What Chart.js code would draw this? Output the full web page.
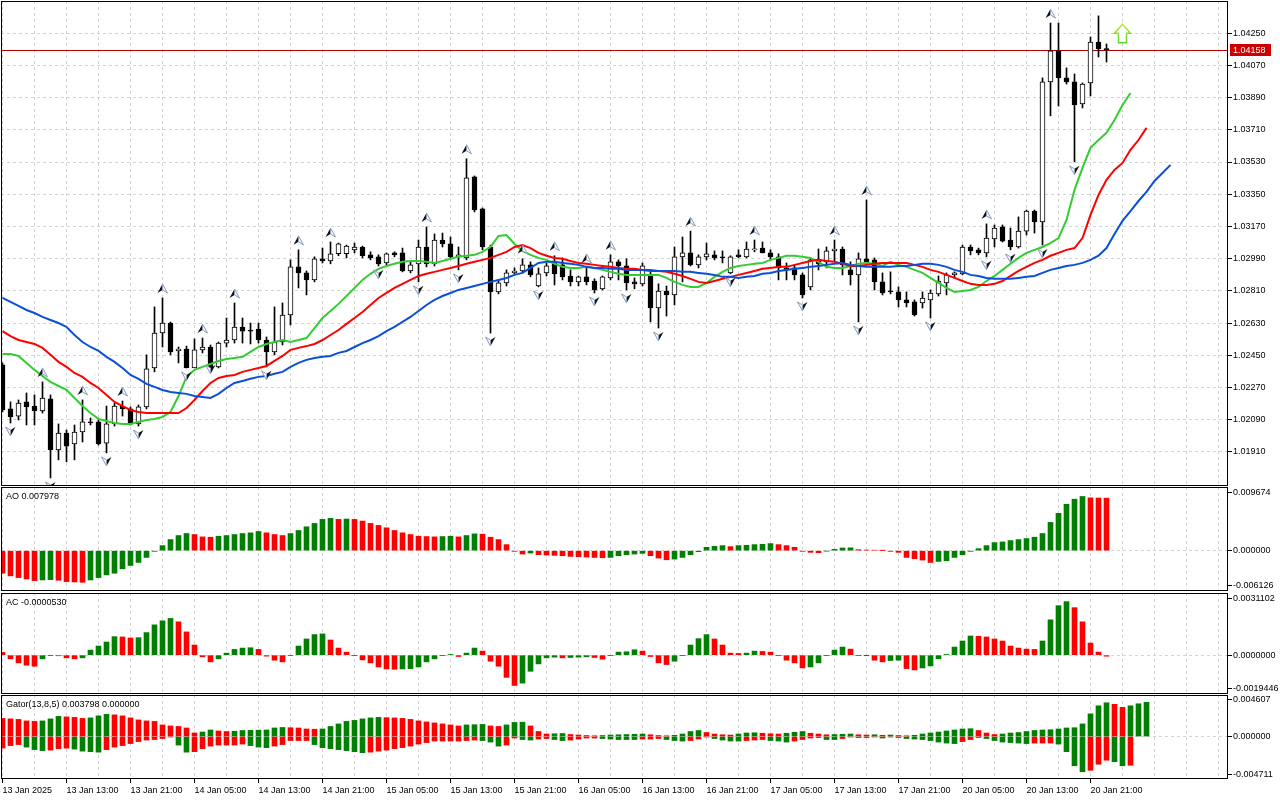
<!DOCTYPE html>
<html>
<head>
<meta charset="utf-8">
<title>EURUSD H1</title>
<script src="https://cdn.jsdelivr.net/npm/chart.js@4.4.1/dist/chart.umd.min.js"></script>
<style>
html, body { margin:0; padding:0; background:#fff; }
body { width:1280px; height:800px; position:relative; overflow:hidden; }
.pane { position:absolute; left:0; width:1280px; }
</style>
</head>
<body>
<div class="pane" style="top:0;height:486px"><canvas id="mainChart"></canvas></div>
<div class="pane" style="top:487px;height:104px"><canvas id="aoChart"></canvas></div>
<div class="pane" style="top:593px;height:101px"><canvas id="acChart"></canvas></div>
<div class="pane" style="top:695px;height:105px"><canvas id="gatorChart"></canvas></div>
<script>
// tick labels, one every 8 bars (H1)
var timeLabels = ['13 Jan 2025','13 Jan 13:00','13 Jan 21:00','14 Jan 05:00','14 Jan 13:00','14 Jan 21:00',
  '15 Jan 05:00','15 Jan 13:00','15 Jan 21:00','16 Jan 05:00','16 Jan 13:00','16 Jan 21:00',
  '17 Jan 05:00','17 Jan 13:00','17 Jan 21:00','20 Jan 05:00','20 Jan 13:00','20 Jan 21:00'];
var priceTicks = [1.01910,1.02090,1.02270,1.02450,1.02630,1.02810,1.02990,1.03170,1.03350,1.03530,1.03710,1.03890,1.04070,1.04250];
var aoTickLabels = ['-0.006126','0.000000','0.009674'];
var acTickLabels = ['-0.0019446','0.0000000','0.0031102'];
var gatorTickLabels = ['-0.004711','0.000000','0.004607'];

var open = [1.02396,1.02150,1.02110,1.02189,1.02166,1.02138,1.02206,1.01921,1.02015,1.01954,
  1.02021,1.02077,1.02077,1.01959,1.02066,1.02166,1.02150,1.02066,1.02161,1.02379,
  1.02574,1.02630,1.02474,1.02485,1.02379,1.02480,1.02496,1.02384,1.02518,1.02535,
  1.02608,1.02591,1.02596,1.02535,1.02469,1.02524,1.02675,1.02944,1.02910,1.02871,
  1.02989,1.02977,1.03017,1.03017,1.03039,1.03055,1.03011,1.03000,1.02966,1.03022,
  1.03022,1.02921,1.02961,1.03055,1.02961,1.03094,1.03072,1.03000,1.02994,1.03447,
  1.03268,1.03055,1.02804,1.02854,1.02910,1.02921,1.02955,1.02837,1.02910,1.02966,
  1.02955,1.02893,1.02860,1.02888,1.02865,1.02821,1.02882,1.02972,1.02949,1.02860,
  1.02849,1.02899,1.02714,1.02809,1.02787,1.03000,1.03022,1.02955,1.03000,1.03011,
  1.03000,1.02910,1.03011,1.03000,1.03039,1.03049,1.03022,1.03000,1.02938,1.02938,
  1.02899,1.02832,1.02983,1.02972,1.03033,1.03044,1.02927,1.02899,1.02989,1.02983,
  1.02860,1.02804,1.02804,1.02759,1.02748,1.02742,1.02759,1.02793,1.02854,1.02899,
  1.02905,1.03055,1.03039,1.03022,1.03100,1.03167,1.03094,1.03055,1.03144,1.03256,
  1.03195,1.03978,1.04151,1.04000,1.03978,1.03855,1.03972,1.04201,1.04162];
var high = [1.02407,1.02189,1.02200,1.02239,1.02228,1.02301,1.02228,1.02066,1.02032,1.02060,
  1.02200,1.02099,1.02088,1.02166,1.02183,1.02194,1.02161,1.02172,1.02452,1.02720,
  1.02770,1.02636,1.02496,1.02501,1.02541,1.02546,1.02507,1.02524,1.02658,1.02742,
  1.02658,1.02630,1.02630,1.02552,1.02720,1.02742,1.02983,1.03039,1.02921,1.03000,
  1.03049,1.03083,1.03077,1.03066,1.03077,1.03060,1.03028,1.03011,1.03022,1.03028,
  1.03049,1.02977,1.03094,1.03167,1.03128,1.03133,1.03111,1.03055,1.03548,1.03452,
  1.03273,1.03066,1.02871,1.02927,1.02938,1.02989,1.02972,1.02938,1.02966,1.03006,
  1.02994,1.02927,1.02893,1.02938,1.02877,1.02893,1.03011,1.02983,1.02989,1.02882,
  1.02966,1.02916,1.02849,1.02837,1.03055,1.03111,1.03144,1.03011,1.03077,1.03033,
  1.03033,1.03006,1.03039,1.03083,1.03094,1.03083,1.03039,1.03017,1.02966,1.02955,
  1.02910,1.02994,1.03044,1.03055,1.03094,1.03055,1.02972,1.03022,1.03318,1.02994,
  1.02910,1.02916,1.02832,1.02804,1.02759,1.02804,1.02815,1.02893,1.02910,1.02916,
  1.03066,1.03066,1.03049,1.03184,1.03178,1.03178,1.03161,1.03223,1.03262,1.03262,
  1.04000,1.04307,1.04307,1.04056,1.04022,1.03972,1.04229,1.04347,1.04190];
var low = [1.02133,1.02071,1.02088,1.02060,1.02060,1.02127,1.01764,1.01865,1.01854,1.01865,
  1.01965,1.02060,1.01948,1.01904,1.02054,1.02110,1.02060,1.02054,1.02150,1.02357,
  1.02496,1.02452,1.02407,1.02379,1.02424,1.02463,1.02418,1.02379,1.02496,1.02518,
  1.02518,1.02513,1.02518,1.02385,1.02452,1.02507,1.02619,1.02826,1.02787,1.02860,
  1.02966,1.02961,1.03006,1.02994,1.03022,1.02994,1.02983,1.02949,1.02955,1.03000,
  1.02916,1.02910,1.02860,1.02944,1.02949,1.03055,1.02994,1.02927,1.02983,1.03251,
  1.03039,1.02574,1.02793,1.02837,1.02899,1.02910,1.02888,1.02832,1.02893,1.02843,
  1.02871,1.02837,1.02837,1.02843,1.02798,1.02815,1.02871,1.02871,1.02815,1.02821,
  1.02837,1.02636,1.02602,1.02669,1.02731,1.02860,1.02949,1.02938,1.02983,1.02983,
  1.02966,1.02905,1.02994,1.02994,1.03028,1.03022,1.02983,1.02871,1.02871,1.02871,
  1.02770,1.02815,1.02927,1.02938,1.02972,1.02899,1.02843,1.02636,1.02955,1.02815,
  1.02787,1.02793,1.02720,1.02720,1.02669,1.02714,1.02658,1.02781,1.02787,1.02882,
  1.02899,1.03011,1.03011,1.03000,1.03055,1.03083,1.03039,1.03049,1.03122,1.03133,
  1.03066,1.03788,1.03843,1.03966,1.03531,1.03832,1.03899,1.04117,1.04089];
var close = [1.02144,1.02105,1.02183,1.02161,1.02138,1.02211,1.01921,1.02015,1.01942,1.02021,
  1.02077,1.02071,1.01954,1.02066,1.02166,1.02150,1.02066,1.02161,1.02374,1.02574,
  1.02630,1.02469,1.02485,1.02379,1.02480,1.02496,1.02379,1.02518,1.02535,1.02608,
  1.02585,1.02585,1.02535,1.02469,1.02524,1.02675,1.02944,1.02910,1.02871,1.02989,
  1.02977,1.03017,1.03072,1.03060,1.03055,1.03006,1.02994,1.02961,1.03017,1.03011,
  1.02921,1.02955,1.03055,1.02961,1.03094,1.03072,1.03000,1.03011,1.03441,1.03262,
  1.03055,1.02804,1.02854,1.02910,1.02921,1.02955,1.02899,1.02905,1.02949,1.02905,
  1.02888,1.02860,1.02888,1.02860,1.02815,1.02888,1.02972,1.02949,1.02854,1.02849,
  1.02949,1.02714,1.02809,1.02787,1.03000,1.03022,1.02955,1.03000,1.03017,1.02994,
  1.02994,1.03000,1.03000,1.03044,1.03044,1.03022,1.03000,1.02938,1.02927,1.02899,
  1.02787,1.02983,1.02961,1.03033,1.03044,1.02955,1.02899,1.02989,1.02972,1.02860,
  1.02798,1.02804,1.02759,1.02742,1.02675,1.02770,1.02798,1.02865,1.02899,1.02910,
  1.03055,1.03033,1.03022,1.03105,1.03161,1.03088,1.03055,1.03144,1.03256,1.03195,
  1.03978,1.04151,1.04000,1.03978,1.03849,1.03966,1.04201,1.04162,1.04158];

// alligator lines as plotted (already shifted forward 8 / 5 / 3 bars)
var jaw = [1.02770,1.02748,1.02726,1.02703,1.02686,1.02664,1.02647,1.02630,1.02608,1.02563,
  1.02524,1.02496,1.02474,1.02441,1.02413,1.02379,1.02340,1.02318,1.02290,1.02273,
  1.02256,1.02245,1.02239,1.02234,1.02222,1.02217,1.02211,1.02234,1.02267,1.02295,
  1.02306,1.02318,1.02329,1.02334,1.02346,1.02357,1.02385,1.02407,1.02424,1.02435,
  1.02441,1.02446,1.02463,1.02474,1.02496,1.02518,1.02535,1.02557,1.02585,1.02608,
  1.02636,1.02664,1.02697,1.02731,1.02759,1.02781,1.02798,1.02815,1.02826,1.02837,
  1.02849,1.02860,1.02871,1.02882,1.02899,1.02910,1.02938,1.02966,1.02972,1.02972,
  1.02966,1.02961,1.02955,1.02944,1.02938,1.02938,1.02933,1.02933,1.02927,1.02927,
  1.02927,1.02921,1.02921,1.02921,1.02921,1.02916,1.02916,1.02910,1.02905,1.02899,
  1.02888,1.02888,1.02882,1.02888,1.02893,1.02905,1.02910,1.02921,1.02927,1.02933,
  1.02938,1.02944,1.02949,1.02955,1.02961,1.02966,1.02955,1.02949,1.02944,1.02944,
  1.02944,1.02944,1.02949,1.02949,1.02955,1.02961,1.02961,1.02955,1.02944,1.02927,
  1.02916,1.02899,1.02893,1.02882,1.02877,1.02877,1.02877,1.02882,1.02888,1.02893,
  1.02910,1.02927,1.02938,1.02949,1.02955,1.02966,1.02983,1.03006,1.03049,1.03128,
  1.03201,1.03256,1.03312,1.03363,1.03424,1.03469,1.03514];
var teeth = [1.02585,1.02557,1.02535,1.02524,1.02513,1.02491,1.02452,1.02413,1.02385,1.02351,
  1.02329,1.02295,1.02267,1.02228,1.02189,1.02166,1.02144,1.02133,1.02127,1.02127,
  1.02127,1.02127,1.02127,1.02155,1.02200,1.02250,1.02295,1.02323,1.02334,1.02340,
  1.02357,1.02368,1.02379,1.02390,1.02418,1.02446,1.02480,1.02491,1.02501,1.02513,
  1.02535,1.02563,1.02591,1.02625,1.02658,1.02692,1.02731,1.02770,1.02798,1.02826,
  1.02849,1.02871,1.02893,1.02905,1.02916,1.02927,1.02938,1.02949,1.02961,1.02972,
  1.02983,1.02994,1.03011,1.03028,1.03055,1.03066,1.03049,1.03022,1.03006,1.02994,
  1.02989,1.02977,1.02966,1.02961,1.02955,1.02949,1.02944,1.02938,1.02933,1.02933,
  1.02927,1.02927,1.02921,1.02916,1.02905,1.02893,1.02877,1.02860,1.02854,1.02865,
  1.02877,1.02888,1.02899,1.02910,1.02921,1.02933,1.02938,1.02944,1.02944,1.02955,
  1.02966,1.02977,1.02983,1.02977,1.02972,1.02961,1.02949,1.02949,1.02955,1.02961,
  1.02966,1.02966,1.02966,1.02966,1.02955,1.02944,1.02927,1.02916,1.02899,1.02882,
  1.02865,1.02849,1.02843,1.02843,1.02849,1.02865,1.02893,1.02921,1.02944,1.02966,
  1.02983,1.03006,1.03022,1.03039,1.03049,1.03105,1.03234,1.03346,1.03430,1.03486,
  1.03525,1.03598,1.03653,1.03721];
var lips = [1.02457,1.02457,1.02446,1.02407,1.02368,1.02334,1.02301,1.02278,1.02256,1.02211,
  1.02166,1.02127,1.02094,1.02082,1.02071,1.02066,1.02066,1.02077,1.02088,1.02094,
  1.02105,1.02133,1.02222,1.02329,1.02368,1.02385,1.02401,1.02418,1.02429,1.02435,
  1.02441,1.02469,1.02496,1.02513,1.02524,1.02535,1.02524,1.02535,1.02546,1.02602,
  1.02658,1.02697,1.02737,1.02781,1.02826,1.02871,1.02905,1.02933,1.02949,1.02961,
  1.02972,1.02977,1.02977,1.02972,1.02966,1.02977,1.02989,1.03000,1.03006,1.03011,
  1.03028,1.03055,1.03117,1.03122,1.03072,1.03033,1.03011,1.02994,1.02983,1.02961,
  1.02944,1.02938,1.02938,1.02944,1.02938,1.02927,1.02916,1.02905,1.02899,1.02899,
  1.02899,1.02899,1.02899,1.02882,1.02860,1.02843,1.02832,1.02832,1.02854,1.02888,
  1.02916,1.02938,1.02949,1.02955,1.02961,1.02966,1.02983,1.02994,1.03006,1.03006,
  1.03000,1.02994,1.02972,1.02944,1.02938,1.02938,1.02949,1.02961,1.02966,1.02961,
  1.02949,1.02972,1.02955,1.02944,1.02927,1.02910,1.02882,1.02854,1.02826,1.02804,
  1.02809,1.02815,1.02832,1.02865,1.02893,1.02927,1.02961,1.02994,1.03022,1.03039,
  1.03055,1.03077,1.03105,1.03206,1.03374,1.03497,1.03609,1.03653,1.03693,1.03765,
  1.03849,1.03916];

var fractalUp = [5,10,15,20,25,29,37,41,53,58,65,69,73,76,86,94,104,108,123,131];
var fractalDown = [1,6,13,17,23,26,33,47,52,57,61,67,74,78,82,91,100,107,116,123,126,130,134];
var lastPrice = 1.04158;
var signalBar = 140, signalPrice = 1.04250;

var aoValues = [-0.003426,-0.003835,-0.004091,-0.004295,-0.004551,-0.004449,-0.004397,-0.004500,-0.004704,-0.004755,
  -0.004806,-0.004449,-0.004091,-0.003682,-0.003426,-0.002761,-0.002250,-0.001790,-0.001023,-0.000102,
  0.000767,0.001687,0.002301,0.002608,0.002454,0.002096,0.002045,0.002199,0.002301,0.002454,
  0.002608,0.002710,0.002915,0.002710,0.002454,0.002301,0.002608,0.003068,0.003630,0.004142,
  0.004755,0.004909,0.004755,0.004806,0.004755,0.004500,0.004142,0.003835,0.003477,0.003068,
  0.002710,0.002454,0.002199,0.002148,0.002096,0.002148,0.002199,0.002096,0.002301,0.002557,
  0.002505,0.002045,0.001687,0.000920,-0.000102,-0.000511,-0.000358,-0.000614,-0.000665,-0.000716,
  -0.000767,-0.000869,-0.000920,-0.000971,-0.001023,-0.001074,-0.001023,-0.000767,-0.000614,-0.000511,
  -0.000409,-0.000767,-0.001125,-0.001381,-0.001278,-0.001023,-0.000614,-0.000153,0.000511,0.000665,
  0.000767,0.000614,0.000767,0.000818,0.000920,0.000971,0.001074,0.000920,0.000767,0.000511,
  -0.000102,-0.000256,-0.000307,-0.000051,0.000205,0.000409,0.000435,0.000153,0.000102,0.000077,
  0.000026,-0.000102,-0.000256,-0.001023,-0.001227,-0.001432,-0.001790,-0.001636,-0.001534,-0.001023,
  -0.000614,-0.000102,0.000307,0.000767,0.001227,0.001330,0.001534,0.001687,0.001841,0.002045,
  0.002608,0.004295,0.005676,0.007056,0.007823,0.008232,0.008027,0.008002,0.007978];
var acValues = [0.000135,-0.000185,-0.000388,-0.000506,-0.000556,-0.000185,-0.000017,-0.000030,-0.000135,-0.000185,
  -0.000135,0.000253,0.000455,0.000657,0.000927,0.000910,0.000859,0.000876,0.001129,0.001517,
  0.001719,0.001837,0.001668,0.001163,0.000506,-0.000084,-0.000337,-0.000185,0.000101,0.000286,
  0.000354,0.000371,0.000286,-0.000051,-0.000253,-0.000337,-0.000017,0.000455,0.000809,0.001028,
  0.001062,0.000758,0.000354,0.000152,-0.000017,-0.000236,-0.000388,-0.000590,-0.000691,-0.000708,
  -0.000691,-0.000674,-0.000590,-0.000337,-0.000185,-0.000017,0.000034,-0.000067,0.000101,0.000354,
  0.000202,-0.000303,-0.000556,-0.001112,-0.001517,-0.001399,-0.000809,-0.000438,-0.000135,-0.000101,
  -0.000135,-0.000118,-0.000101,-0.000084,-0.000118,-0.000202,-0.000017,0.000152,0.000169,0.000270,
  0.000202,-0.000067,-0.000388,-0.000472,-0.000303,-0.000017,0.000506,0.000826,0.001028,0.000809,
  0.000506,0.000101,0.000084,0.000101,0.000202,0.000185,0.000152,-0.000017,-0.000253,-0.000388,
  -0.000640,-0.000590,-0.000388,-0.000017,0.000253,0.000404,0.000303,-0.000017,-0.000008,-0.000253,
  -0.000337,-0.000270,-0.000253,-0.000674,-0.000741,-0.000640,-0.000539,-0.000185,0.000034,0.000404,
  0.000708,0.000960,0.000944,0.000910,0.000809,0.000708,0.000455,0.000354,0.000303,0.000286,
  0.000708,0.001769,0.002477,0.002679,0.002376,0.001668,0.000607,0.000152,-0.000053];
var gatorUp = [0.002012,0.001957,0.001901,0.001733,0.001677,0.001733,0.001957,0.002236,0.002180,0.002124,
  0.002012,0.002068,0.002292,0.002460,0.002404,0.002292,0.002068,0.001845,0.001733,0.001677,
  0.001286,0.001174,0.001118,0.000950,0.000391,0.000503,0.000727,0.000615,0.000559,0.000587,
  0.000671,0.000688,0.000704,0.000727,0.000950,0.001006,0.000978,0.000950,0.000839,0.000811,
  0.000839,0.001118,0.001398,0.001677,0.001789,0.001957,0.002068,0.002124,0.002096,0.002068,
  0.002012,0.001901,0.001733,0.001621,0.001509,0.001398,0.001286,0.001174,0.001286,0.001314,
  0.001342,0.001174,0.001118,0.001286,0.001565,0.001593,0.001174,0.000559,0.000280,0.000307,
  0.000335,0.000224,0.000168,0.000112,0.000084,0.000112,0.000168,0.000196,0.000224,0.000252,
  0.000280,0.000196,0.000112,0.000084,0.000140,0.000280,0.000559,0.000671,0.000447,0.000280,
  0.000196,0.000168,0.000280,0.000391,0.000419,0.000363,0.000307,0.000280,0.000363,0.000475,
  0.000559,0.000363,0.000280,0.000196,0.000224,0.000252,0.000280,0.000196,0.000168,0.000196,
  0.000140,0.000168,0.000112,0.000084,0.000140,0.000280,0.000391,0.000503,0.000615,0.000727,
  0.000839,0.000866,0.000671,0.000391,0.000224,0.000280,0.000391,0.000447,0.000559,0.000671,
  0.000727,0.000755,0.000839,0.000950,0.000978,0.001398,0.002516,0.003410,0.003745,0.003578,
  0.003242,0.003410,0.003634,0.003798];
var gatorDown = [-0.001286,-0.001006,-0.000894,-0.001174,-0.001453,-0.001565,-0.001509,-0.001342,-0.001286,-0.001398,
  -0.001621,-0.001677,-0.001733,-0.001453,-0.001174,-0.001006,-0.000783,-0.000559,-0.000391,-0.000335,
  -0.000224,-0.000056,-0.000950,-0.001733,-0.001677,-0.001342,-0.001062,-0.000950,-0.000950,-0.000950,
  -0.000839,-0.001006,-0.001174,-0.001230,-0.001062,-0.000894,-0.000447,-0.000447,-0.000447,-0.000894,
  -0.001230,-0.001342,-0.001453,-0.001565,-0.001677,-0.001789,-0.001733,-0.001621,-0.001509,-0.001342,
  -0.001230,-0.001062,-0.000839,-0.000671,-0.000503,-0.000503,-0.000503,-0.000503,-0.000447,-0.000391,
  -0.000447,-0.000615,-0.001062,-0.000950,-0.000168,-0.000335,-0.000391,-0.000280,-0.000224,-0.000335,
  -0.000447,-0.000391,-0.000280,-0.000168,-0.000168,-0.000224,-0.000280,-0.000335,-0.000335,-0.000335,
  -0.000280,-0.000280,-0.000224,-0.000335,-0.000447,-0.000503,-0.000447,-0.000280,-0.000056,-0.000224,
  -0.000391,-0.000503,-0.000503,-0.000447,-0.000391,-0.000335,-0.000447,-0.000503,-0.000615,-0.000503,
  -0.000335,-0.000168,-0.000112,-0.000335,-0.000335,-0.000224,-0.000056,-0.000112,-0.000112,-0.000056,
  -0.000168,-0.000056,-0.000112,-0.000224,-0.000280,-0.000335,-0.000447,-0.000615,-0.000727,-0.000783,
  -0.000559,-0.000335,-0.000112,-0.000224,-0.000447,-0.000615,-0.000671,-0.000727,-0.000783,-0.000727,
  -0.000727,-0.000727,-0.000839,-0.001677,-0.003242,-0.003913,-0.003745,-0.003075,-0.002627,-0.002795,
  -0.003242,-0.003186];

var GRID = '#d4d4d4';
var UP = '#008000', DOWN = '#ff0000';
var FONT = '"Liberation Sans", Arial, sans-serif';

Chart.defaults.font.family = FONT;
Chart.defaults.font.size = 9;
Chart.defaults.color = '#000';
Chart.defaults.animation = false;
Chart.defaults.events = [];
Chart.defaults.maintainAspectRatio = false;
Chart.defaults.devicePixelRatio = 1;
Chart.defaults.plugins.legend.display = false;
Chart.defaults.plugins.tooltip.enabled = false;

function pts(arr) {
  return arr.map(function (v, i) { return { x: i, y: v }; });
}

// AO / AC: green when the value rises, red when it falls
function riseColors(arr) {
  var out = [], c = DOWN;
  for (var i = 0; i < arr.length; i++) {
    if (i > 0) {
      if (arr[i] > arr[i - 1]) c = UP; else if (arr[i] < arr[i - 1]) c = DOWN;
    }
    out.push(c);
  }
  return out;
}
// Gator: green when the bar gets longer, red when it gets shorter
function sizeColors(arr) {
  var out = [], c = DOWN;
  for (var i = 0; i < arr.length; i++) {
    if (i > 0) {
      var a = Math.abs(arr[i]), b = Math.abs(arr[i - 1]);
      if (a > b) c = UP; else if (a < b) c = DOWN;
    }
    out.push(c);
  }
  return out;
}

function xAxis(showLabels) {
  return {
    type: 'linear', min: -0.1875, max: 153.1875, offset: false,
    grid: {
      color: GRID, offset: false, drawTicks: showLabels, tickLength: 4, tickBorderDash: [],
      tickColor: function (c) {
        return c.tick && c.tick.value % 8 === 0 && timeLabels[c.tick.value / 8] ? '#000' : 'rgba(0,0,0,0)';
      }
    },
    border: { display: false, dash: [3, 3] },
    ticks: {
      display: showLabels, autoSkip: false, maxRotation: 0, minRotation: 0, align: 'start', padding: 2,
      callback: function (v) { return v % 8 === 0 ? (timeLabels[v / 8] || '') : ''; }
    },
    afterBuildTicks: function (s) {
      var t = [];
      for (var i = 0; i <= 152; i += 4) t.push({ value: i });
      s.ticks = t;
    },
    afterFit: function (s) {
      s.height = showLabels ? 21 : 0;
      s.paddingLeft = 0; s.paddingRight = 0;
    }
  };
}

function yFit(s) {
  s.width = 52;
  s.paddingTop = 0; s.paddingBottom = 0;
}

function subAxis(min, max, labels) {
  var d = (max - min) * 0.05;
  return {
    type: 'linear', position: 'right', min: min, max: max,
    grid: {
      color: function (c) { return c.index === 1 ? GRID : 'rgba(0,0,0,0)'; },
      tickLength: 4, tickColor: '#000', tickBorderDash: []
    },
    border: { display: false, dash: [3, 3] },
    ticks: { padding: 1, autoSkip: false, callback: function (v, i) { return labels[i]; } },
    afterBuildTicks: function (s) { s.ticks = [{ value: min + d }, { value: 0 }, { value: max - d }]; },
    afterFit: yFit
  };
}

var frame = {
  id: 'frame',
  afterDraw: function (chart) {
    var a = chart.chartArea, ctx = chart.ctx;
    ctx.save();
    ctx.strokeStyle = '#000';
    ctx.lineWidth = 1;
    ctx.strokeRect(a.left + 0.5, a.top + 0.5, a.right - a.left - 1, a.bottom - a.top - 1);
    ctx.restore();
  }
};

var paneLabel = {
  id: 'paneLabel',
  afterDraw: function (chart, args, opts) {
    if (!opts.text) return;
    var ctx = chart.ctx;
    ctx.save();
    ctx.font = '9px ' + FONT;
    ctx.fillStyle = '#000';
    ctx.textBaseline = 'middle';
    ctx.fillText(opts.text, chart.chartArea.left + 5, chart.chartArea.top + 10);
    ctx.restore();
  }
};

function drawFractal(ctx, x, y, up) {
  var s = up ? 1 : -1;
  ctx.beginPath();
  ctx.moveTo(x, y - 5 * s); ctx.lineTo(x - 5 * s, y + 4 * s); ctx.lineTo(x, y + 1 * s); ctx.closePath();
  ctx.fillStyle = '#111'; ctx.fill();
  ctx.beginPath();
  ctx.moveTo(x, y - 5 * s); ctx.lineTo(x + 5 * s, y + 4 * s); ctx.lineTo(x, y + 1 * s); ctx.closePath();
  ctx.fillStyle = '#f3f5ff'; ctx.fill();
  ctx.strokeStyle = '#8c9cb8'; ctx.lineWidth = 1; ctx.stroke();
}

var marks = {
  id: 'marks',
  beforeDatasetsDraw: function (chart) {
    var a = chart.chartArea, ctx = chart.ctx;
    var y = Math.round(chart.scales.y.getPixelForValue(lastPrice)) + 0.5;
    ctx.save();
    ctx.strokeStyle = '#b40000';
    ctx.lineWidth = 1;
    ctx.beginPath(); ctx.moveTo(a.left, y); ctx.lineTo(a.right, y); ctx.stroke();
    ctx.restore();
  },
  afterDatasetsDraw: function (chart) {
    var xs = chart.scales.x, ys = chart.scales.y, ctx = chart.ctx, a = chart.chartArea;
    ctx.save();
    ctx.beginPath(); ctx.rect(a.left, a.top, a.right - a.left, a.bottom - a.top); ctx.clip();
    fractalUp.forEach(function (i) {
      drawFractal(ctx, xs.getPixelForValue(i), ys.getPixelForValue(high[i]) - 9, true);
    });
    fractalDown.forEach(function (i) {
      drawFractal(ctx, xs.getPixelForValue(i), ys.getPixelForValue(low[i]) + 8, false);
    });
    // hollow green signal arrow
    var x = xs.getPixelForValue(signalBar), y = ys.getPixelForValue(signalPrice);
    var g = ctx.createLinearGradient(0, y - 10, 0, y + 10);
    g.addColorStop(0, '#c6e82e'); g.addColorStop(1, '#4fd83a');
    ctx.beginPath();
    ctx.moveTo(x, y - 9); ctx.lineTo(x + 8, y); ctx.lineTo(x + 4, y); ctx.lineTo(x + 4, y + 9.5);
    ctx.lineTo(x - 4, y + 9.5); ctx.lineTo(x - 4, y); ctx.lineTo(x - 8, y); ctx.closePath();
    ctx.fillStyle = '#fff'; ctx.fill();
    ctx.strokeStyle = g; ctx.lineWidth = 1.5; ctx.stroke();
    ctx.restore();
  },
  afterDraw: function (chart) {
    var a = chart.chartArea, ctx = chart.ctx;
    var y = Math.round(chart.scales.y.getPixelForValue(lastPrice));
    ctx.save();
    ctx.fillStyle = '#cc0000';
    ctx.fillRect(a.right + 2, y - 6, 41, 12);
    ctx.fillStyle = '#fff';
    ctx.font = '9px ' + FONT;
    ctx.textBaseline = 'middle';
    ctx.fillText(lastPrice.toFixed(5), a.right + 5, y + 0.5);
    ctx.restore();
  }
};

var bodyData = open.map(function (o, i) {
  return { x: i, y: [Math.min(o, close[i]), Math.max(o, close[i])] };
});
var wickData = low.map(function (l, i) { return { x: i, y: [l, high[i]] }; });
var bodyColors = open.map(function (o, i) { return close[i] > o ? '#ffffff' : '#000000'; });

new Chart(document.getElementById('mainChart'), {
  type: 'bar',
  data: {
    datasets: [
      { type: 'line', label: 'Jaw', data: pts(jaw), borderColor: '#0b4fd9', borderWidth: 2, pointRadius: 0, order: 0 },
      { type: 'line', label: 'Teeth', data: pts(teeth), borderColor: '#ff0000', borderWidth: 2, pointRadius: 0, order: 0 },
      { type: 'line', label: 'Lips', data: pts(lips), borderColor: '#33cc33', borderWidth: 2, pointRadius: 0, order: 0 },
      { label: 'Body', data: bodyData, backgroundColor: bodyColors, borderColor: '#000', borderWidth: 1,
        borderSkipped: false, barThickness: 5, grouped: false, minBarLength: 1, order: 1 },
      { label: 'Wick', data: wickData, backgroundColor: '#000', barThickness: 1, grouped: false, order: 2 }
    ]
  },
  options: {
    layout: { padding: { top: 1, left: 1, right: 0, bottom: 0 } },
    scales: {
      x: xAxis(false),
      y: {
        type: 'linear', position: 'right', min: 1.01719, max: 1.04430,
        grid: { color: GRID, tickLength: 4, tickColor: '#000', tickBorderDash: [] },
        border: { display: false, dash: [3, 3] },
        ticks: { padding: 1, autoSkip: false, callback: function (v) { return v.toFixed(5); } },
        afterBuildTicks: function (s) { s.ticks = priceTicks.map(function (v) { return { value: v }; }); },
        afterFit: yFit
      }
    }
  },
  plugins: [marks, frame]
});

new Chart(document.getElementById('aoChart'), {
  type: 'bar',
  data: { datasets: [{ label: 'AO', data: pts(aoValues), backgroundColor: riseColors(aoValues), barThickness: 5, grouped: false }] },
  options: {
    layout: { padding: { left: 1 } },
    scales: { x: xAxis(false), y: subAxis(-0.006126, 0.009674, aoTickLabels) },
    plugins: { paneLabel: { text: 'AO ' + aoValues[aoValues.length - 1].toFixed(6) } }
  },
  plugins: [frame, paneLabel]
});

new Chart(document.getElementById('acChart'), {
  type: 'bar',
  data: { datasets: [{ label: 'AC', data: pts(acValues), backgroundColor: riseColors(acValues), barThickness: 5, grouped: false }] },
  options: {
    layout: { padding: { left: 1 } },
    scales: { x: xAxis(false), y: subAxis(-0.0019446, 0.0031102, acTickLabels) },
    plugins: { paneLabel: { text: 'AC ' + acValues[acValues.length - 1].toFixed(7) } }
  },
  plugins: [frame, paneLabel]
});

new Chart(document.getElementById('gatorChart'), {
  type: 'bar',
  data: {
    datasets: [
      { label: 'Upper', data: pts(gatorUp), backgroundColor: sizeColors(gatorUp), barThickness: 5, grouped: false },
      { label: 'Lower', data: pts(gatorDown), backgroundColor: sizeColors(gatorDown), barThickness: 5, grouped: false }
    ]
  },
  options: {
    layout: { padding: { left: 1 } },
    scales: { x: xAxis(true), y: subAxis(-0.004711, 0.004607, gatorTickLabels) },
    plugins: { paneLabel: { text: 'Gator(13,8,5) ' + gatorUp[gatorUp.length - 1].toFixed(6) + ' 0.000000' } }
  },
  plugins: [frame, paneLabel]
});
</script>
</body>
</html>
